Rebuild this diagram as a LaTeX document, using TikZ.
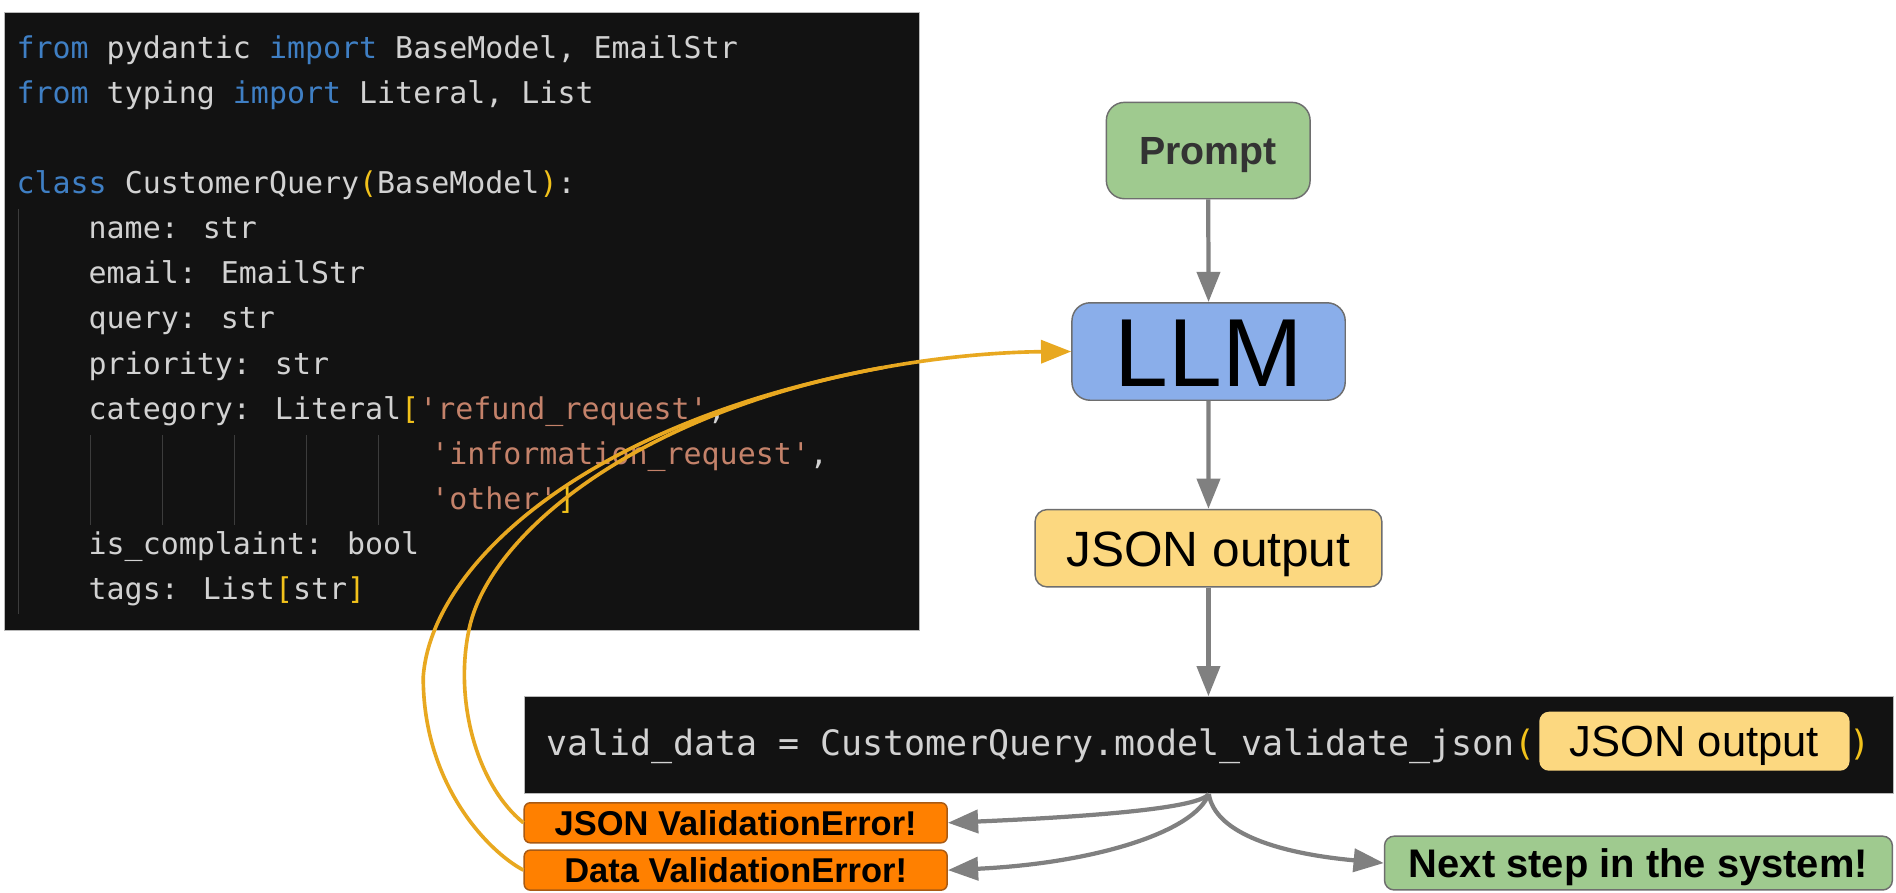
\documentclass[tikz,border=0pt]{standalone}
\usepackage{fontspec}
\setmainfont{Liberation Sans}
\newfontfamily\codefont{DejaVu Sans Mono}[Ligatures=TeXOff]
\usetikzlibrary{arrows.meta}
\definecolor{codebg}{HTML}{121212}
\definecolor{codefg}{HTML}{D2D2D2}
\definecolor{kwblue}{HTML}{3F7FC4}
\definecolor{strcol}{HTML}{C4826A}
\definecolor{brgold}{HTML}{F2C21B}
\definecolor{guidecol}{HTML}{3C3C3C}
\definecolor{curvecol}{HTML}{E8A820}
\definecolor{arrowgray}{HTML}{808080}
\definecolor{boxborder}{HTML}{6E6E6E}
\definecolor{greenfill}{HTML}{9FCA8F}
\definecolor{bluefill}{HTML}{8AAEEA}
\definecolor{yellowfill}{HTML}{FCD880}
\definecolor{orangefill}{HTML}{FF8000}
\definecolor{orangeborder}{HTML}{A85A14}
\newcommand{\kwd}[1]{\textcolor{kwblue}{#1}}
\newcommand{\brk}[1]{\textcolor{brgold}{#1}}
\newcommand{\strg}[1]{\textcolor{strcol}{#1}}
\tikzset{
  codeline/.style={anchor=base west, inner sep=0pt, text=codefg,
    font=\codefont\fontsize{24.77}{30}\selectfont},
  barline/.style={anchor=base west, inner sep=0pt, text=codefg,
    font=\codefont\fontsize{28.9}{34}\selectfont},
  guide/.style={draw=guidecol, line width=1pt},
  flowbox/.style={draw=boxborder, line width=1.2pt, inner sep=0pt, text depth=0pt},
  errbox/.style={draw=orangeborder, line width=1.2pt, fill=orangefill, inner sep=0pt,
    rounded corners=5pt, minimum width=349.8pt, minimum height=33.1pt,
    font=\bfseries\fontsize{28.5}{32}\selectfont, text height=20.4pt, text depth=0pt},
  grayarrow/.style={draw=arrowgray, line width=3.5pt, -{Triangle[length=25pt,width=19pt]}},
  orangeline/.style={draw=curvecol, line width=3pt},
  orangearrow/.style={draw=curvecol, line width=3pt, -{Triangle[length=25pt,width=19pt]}},
}
\begin{document}
\begin{tikzpicture}[x=1pt,y=-1pt]
\useasboundingbox[fill=white] (0,0) rectangle (1568,738.5);

% ---------------- code box ----------------
\node[draw=gray!55, line width=0.8pt, fill=codebg, inner sep=0pt,
      minimum width=756.5pt, minimum height=510.5pt] (codebox) at (382.25,265.75) {};
\draw[guide] (15,173) -- (15,508);
\foreach \gx in {74.6,134.3,193.9,253.6,313.2} {\draw[guide] (\gx,360) -- (\gx,434);}

\node[codeline] (l0) at (13.5,48.2) {\kwd{from} pydantic \kwd{import} BaseModel, EmailStr};
\node[codeline] (l1) at (13.5,85.5) {\kwd{from} typing \kwd{import} Literal, List};
\node[codeline] (l3) at (13.5,160.1) {\kwd{class} CustomerQuery\brk{(}BaseModel\brk{)}:};
\node[codeline] (l4) at (73.14,197.4) {name: str};
\node[codeline] (l5) at (73.14,234.7) {email: EmailStr};
\node[codeline] (l6) at (73.14,272.0) {query: str};
\node[codeline] (l7) at (73.14,309.3) {priority: str};
\node[codeline] (l8) at (73.14,346.6) {category: Literal\brk{[}\strg{'refund\_request'},};
\node[codeline] (l9) at (356.43,383.9) {\strg{'information\_request'},};
\node[codeline] (l10) at (356.43,421.2) {\strg{'other'}\brk{]}};
\node[codeline] (l11) at (73.14,458.5) {is\_complaint: bool};
\node[codeline] (l12) at (73.14,495.8) {tags: List\brk{[}str\brk{]}};

% ---------------- flow boxes ----------------
\node[flowbox, fill=greenfill, rounded corners=15pt, minimum width=168.5pt, minimum height=79.7pt,
      font=\bfseries\fontsize{32.5}{36}\selectfont, text=black!80, text height=23.3pt] (prompt) at (999.2,124.5) {Prompt};
\node[flowbox, fill=bluefill, rounded corners=15pt, minimum width=226pt, minimum height=80.6pt,
      font=\fontsize{80}{84}\selectfont, text height=57.3pt] (llm) at (999.5,290.7) {LLM};
\node[flowbox, fill=yellowfill, rounded corners=10pt, minimum width=286.8pt, minimum height=64pt,
      font=\fontsize{41}{45}\selectfont, text height=29.4pt] (json) at (999.4,453.4) {JSON output};

% ---------------- validation bar ----------------
\node[draw=gray!55, line width=0.8pt, fill=codebg, inner sep=0pt,
      minimum width=1132.3pt, minimum height=80pt] (bar) at (999.65,616.2) {};
\node[barline] (bartext) at (452,624.5) {valid\_data = CustomerQuery.model\_validate\_json\brk{(}};
\node[flowbox, draw=none, fill=yellowfill, rounded corners=8pt, minimum width=256.6pt, minimum height=48.8pt,
      font=\fontsize{36}{40}\selectfont, text height=25.8pt] (barjson) at (1401.3,613) {JSON output};
\node[barline] (rparen) at (1529.5,624.5) {\brk{)}};

% ---------------- outcome boxes ----------------
\node[errbox] (errj) at (608.4,680.45) {JSON ValidationError!};
\node[errbox] (errd) at (608.4,719.6) {Data ValidationError!};
\node[flowbox, fill=greenfill, rounded corners=8pt, minimum width=420pt, minimum height=44.5pt,
      font=\bfseries\fontsize{33}{36}\selectfont, text height=23.6pt] (next) at (1355,713.75) {Next step in the system!};

% ---------------- gray connectors ----------------
\draw[grayarrow] (prompt.south) -- (llm.north);
\draw[grayarrow] (llm.south) -- (json.north);
\draw[grayarrow] (json.south) -- (json.south |- bar.north);
\coordinate (branch) at (bar.south);
\draw[grayarrow] (branch) .. controls (992,668) and (910,675) .. (errj.east);
\draw[grayarrow] (branch) .. controls (988,688) and (905,714) .. (errd.east);
\draw[grayarrow] (branch) .. controls (1005,690) and (1060,706) .. (next.west);

% ---------------- orange retry curves ----------------
\coordinate (merge) at (730,304);
\draw[orangeline] (errj.west) .. controls (395,650) and (375,580) .. (388,520)
                  .. controls (405,440) and (530,340) .. (merge);
\draw[orangeline] (errd.west) .. controls (405,705) and (350,650) .. (350,560)
                  .. controls (356,470) and (480,350) .. (merge);
\draw[orangearrow] (merge) .. controls (790,293) and (840,291) .. (llm.west);
\end{tikzpicture}
\end{document}
